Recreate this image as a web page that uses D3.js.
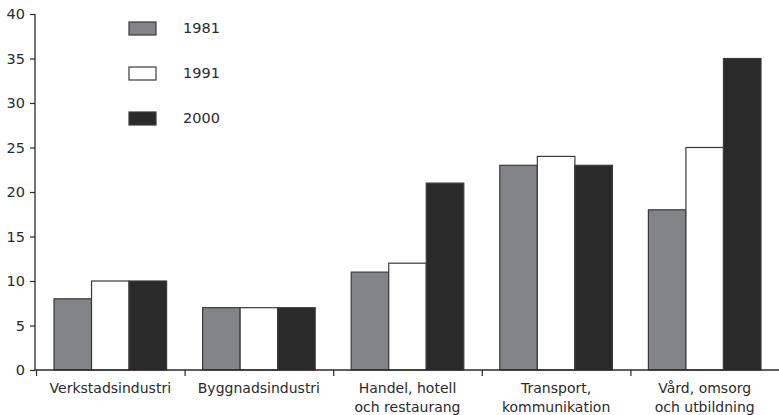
<!DOCTYPE html>
<html><head><meta charset="utf-8">
<script src="https://cdn.jsdelivr.net/npm/d3@7"></script>
<style>body{margin:0;background:#fff}svg{display:block}text{font-family:"DejaVu Sans",sans-serif;fill:#2b2a2b}</style>
</head><body>
<script>
const categories = [["Verkstadsindustri"],["Byggnadsindustri"],["Handel, hotell","och restaurang"],["Transport,","kommunikation"],["Vård, omsorg","och utbildning"]];
const years = ["1981","1991","2000"];
const v1981 = [8,7,11,23,18];
const v1991 = [10,7,12,24,25];
const v2000 = [10,7,21,23,35];
const yTicks = [0,5,10,15,20,25,30,35,40];
const colors = ["#828487","#ffffff","#2b2a2b"];
const series = [v1981,v1991,v2000];

const W=779,H=415;
const svg=d3.select("body").append("svg").attr("width",W).attr("height",H);
const x0=d3.scaleBand().domain(d3.range(categories.length)).range([36,779]).paddingInner(0).paddingOuter(0);
const x1=d3.scaleBand().domain(d3.range(years.length)).range([18,x0.bandwidth()-18]);
const y=d3.scaleLinear().domain([0,40]).range([370,14]);

const g=svg.append("g");
categories.forEach((c,i)=>{
  series.forEach((s,k)=>{
    g.append("rect").attr("x",x0(i)+x1(k)).attr("y",y(s[i])).attr("width",x1.bandwidth()).attr("height",y(0)-y(s[i]))
     .attr("fill",colors[k]).attr("stroke","#3a3a3a").attr("stroke-width",1.2);
  });
});

// y axis
const ya=svg.append("g").attr("transform","translate(35,0)").call(d3.axisLeft(y).tickValues(yTicks).tickSize(5).tickPadding(5));
ya.select(".domain").attr("stroke","#2b2a2b").attr("stroke-width",1.3).attr("d","M0,"+y(40)+"V"+y(0));
ya.selectAll(".tick line").attr("stroke","#2b2a2b").attr("stroke-width",1.2);
ya.selectAll(".tick text").style("font-size","14.5px").attr("fill","#2b2a2b").attr("font-family","DejaVu Sans, sans-serif");

// x axis
svg.append("line").attr("x1",35).attr("x2",779).attr("y1",y(0)).attr("y2",y(0)).attr("stroke","#2b2a2b").attr("stroke-width",1.3);
categories.forEach((c,i)=>{
  svg.append("line").attr("x1",x0(i)+0.5).attr("x2",x0(i)+0.5).attr("y1",y(0)).attr("y2",y(0)+6).attr("stroke","#2b2a2b").attr("stroke-width",1.2);
  const t=svg.append("text").attr("text-anchor","middle").attr("x",x0(i)+x0.bandwidth()/2).attr("y",393).style("font-size","14px");
  c.forEach((line,j)=>t.append("tspan").attr("x",x0(i)+x0.bandwidth()/2).attr("dy",j?19:0).text(line));
});

// legend
years.forEach((yr,k)=>{
  const yy=22+k*45;
  svg.append("rect").attr("x",129).attr("y",yy).attr("width",27).attr("height",13).attr("fill",colors[k]).attr("stroke","#3a3a3a").attr("stroke-width",1.2);
  svg.append("text").attr("x",183).attr("y",yy+11).style("font-size","14.5px").text(yr);
});
</script>
</body></html>
